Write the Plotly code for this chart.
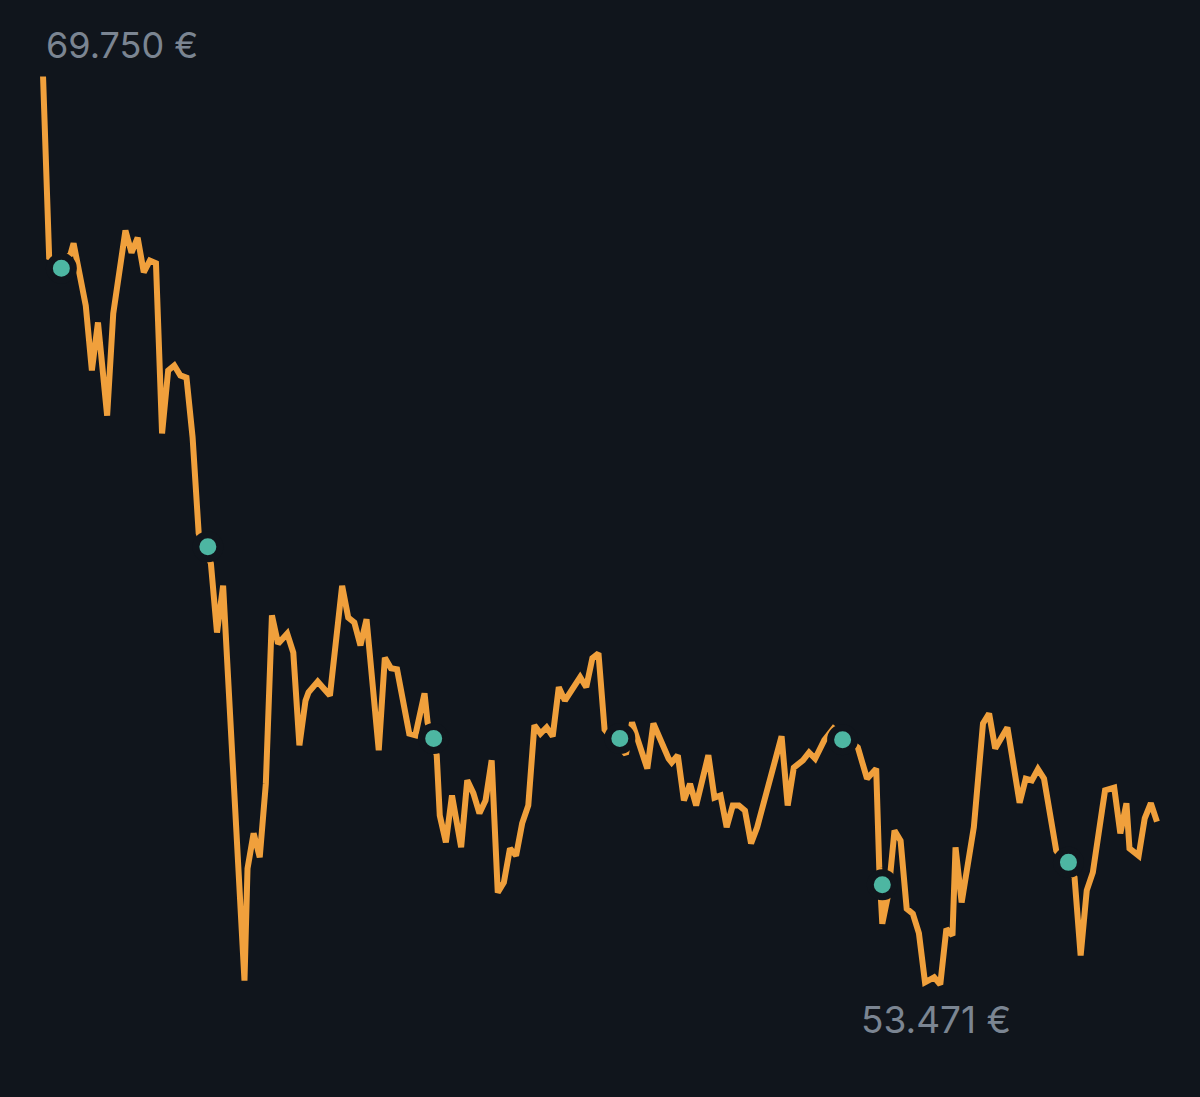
import plotly.graph_objects as go

# Day index of each vertex of the price line
days = [0, 2, 6, 9, 10, 14, 16, 18, 21, 23, 27, 29, 31, 33, 35, 37, 39, 41, 43, 45,
        47, 49, 51, 55, 57, 59, 66, 67, 69, 71, 73, 75, 77, 80, 82, 84, 86, 87, 90, 92,
        94, 98, 100, 102, 104, 106, 110, 112, 114, 116, 118, 120, 122, 125, 126, 129, 130, 132, 134, 137,
        139, 141, 143, 145, 147, 149, 151, 153, 155, 157, 159, 161, 163, 165, 167, 169, 171, 174, 176, 178,
        180, 182, 184, 191, 193, 198, 200, 205, 206, 208, 210, 212, 214, 218, 220, 222, 224, 226, 228, 230,
        232, 234, 242, 244, 246, 249, 251, 253, 255, 256, 259, 267, 270, 273, 274, 275, 277, 279, 281, 283,
        285, 287, 289, 292, 294, 296, 298, 299, 301, 305, 308, 310, 312, 316, 320, 322, 324, 326, 328, 331,
        332, 338, 340, 342, 344, 347, 348, 351, 353, 355, 356, 359, 361, 363, 365]

# Price (EUR) at each vertex
prices = [69.75, 66.51, 66.42, 66.56, 66.76, 65.64, 64.48, 65.34, 63.67, 65.50, 66.99, 66.59, 66.86, 66.24, 66.45, 66.40, 63.35, 64.48, 64.57, 64.39,
          64.35, 63.28, 61.56, 61.02, 59.78, 60.62, 53.54, 55.55, 56.18, 55.75, 57.07, 60.09, 59.58, 59.76, 59.42, 57.76, 58.56, 58.71, 58.90, 58.78,
          58.65, 60.62, 60.05, 59.96, 59.55, 60.02, 57.67, 59.33, 59.14, 59.12, 58.51, 57.97, 57.94, 58.69, 58.17, 57.58, 56.50, 56.02, 56.86, 55.93,
          57.13, 56.90, 56.54, 56.77, 57.49, 55.12, 55.30, 55.91, 55.78, 56.36, 56.68, 58.12, 57.97, 58.08, 57.92, 58.80, 58.56, 58.80, 58.98, 58.80,
          59.32, 59.41, 58.04, 57.60, 58.17, 57.34, 58.15, 57.52, 57.45, 57.58, 56.77, 57.07, 56.68, 57.58, 56.82, 56.86, 56.29, 56.68, 56.68, 56.59,
          56.00, 56.29, 57.92, 56.68, 57.36, 57.49, 57.63, 57.52, 57.76, 57.85, 58.06, 57.72, 57.16, 57.34, 55.57, 54.56, 55.10, 56.23, 56.05, 54.83,
          54.74, 54.39, 53.51, 53.60, 53.471, 54.47, 54.35, 55.93, 54.94, 56.29, 58.15, 58.33, 57.70, 58.08, 56.73, 57.16, 57.13, 57.33, 57.16, 56.14,
          55.87, 55.39, 53.99, 55.16, 55.48, 56.59, 56.95, 57.00, 56.18, 56.72, 55.91, 55.78, 56.45, 56.72, 56.39]

# Event markers (day, price)
event_days = [6, 54, 128, 189, 262, 275, 336]
event_prices = [66.31, 61.32, 57.88, 57.88, 57.86, 55.26, 55.66]

BG = "#10151c"
LINE = "#f0a03c"
TEAL = "#4db6a2"
LABEL = "#7b8592"


def eur(v):
    return f"{v:.3f} \u20ac"


max_i = prices.index(max(prices))
min_i = prices.index(min(prices))

fig = go.Figure()
fig.add_trace(go.Scatter(x=days, y=prices, mode="lines",
                         line=dict(color=LINE, width=6, shape="linear"),
                         hoverinfo="skip"))
fig.add_trace(go.Scatter(x=event_days, y=event_prices, mode="markers",
                         marker=dict(color=TEAL, size=24, line=dict(color=BG, width=7)),
                         hoverinfo="skip", cliponaxis=False))

fig.add_annotation(x=days[max_i], y=prices[max_i], text=eur(prices[max_i]),
                   showarrow=False, xanchor="left", yanchor="middle",
                   xshift=1, yshift=31,
                   font=dict(family="Inter", size=36, color=LABEL))
fig.add_annotation(x=days[min_i], y=prices[min_i], text=eur(prices[min_i]),
                   showarrow=False, xanchor="center", yanchor="middle",
                   xshift=-4, yshift=-35,
                   font=dict(family="Inter", size=37, color=LABEL))

fig.update_layout(
    width=1200, height=1097,
    paper_bgcolor=BG, plot_bgcolor=BG,
    margin=dict(l=40, r=40, t=67, b=103),
    showlegend=False,
    xaxis=dict(range=[-1, 366], visible=False, fixedrange=True),
    yaxis=dict(range=[53.30, 69.92], visible=False, fixedrange=True),
)

fig.write_html(
    "out.html",
    config={"displayModeBar": False},
    post_script="document.body.style.margin='0';document.body.style.background='#10151c';document.body.style.overflow='hidden';",
)
